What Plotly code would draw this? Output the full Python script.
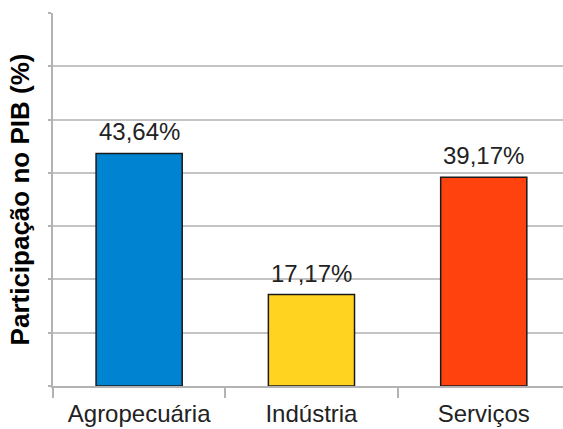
import plotly.graph_objects as go

categories = ["Agropecuária", "Indústria", "Serviços"]
values = [43.64, 17.17, 39.17]
labels = ["43,64%", "17,17%", "39,17%"]
colors = ["#0084d1", "#ffd320", "#ff420e"]

fig = go.Figure(go.Bar(
    x=categories, y=values, width=0.5,
    marker=dict(color=colors, line=dict(color="#1a1a1a", width=1.5)),
    hoverinfo="skip",
))

for c, v, t in zip(categories, values, labels):
    fig.add_annotation(x=c, y=v, text=t, showarrow=False, yanchor="bottom", yshift=6,
                       font=dict(family="Liberation Sans", size=24, color="#222"))

fig.update_layout(
    width=563, height=429,
    margin=dict(l=53, r=0, t=13, b=43),
    paper_bgcolor="white", plot_bgcolor="white",
    showlegend=False,
    font=dict(family="Liberation Sans", size=24, color="#222"),
)
fig.update_xaxes(
    range=[-0.5, 2.46], tickson="boundaries", ticks="outside", ticklen=10,
    tickcolor="#b3b3b3", tickwidth=1.5, showline=True, linecolor="#b3b3b3", linewidth=1.5,
    showgrid=False, tickfont=dict(size=24), ticklabelstandoff=5,
)
fig.update_yaxes(
    range=[0, 70], dtick=10, showticklabels=False, ticks="outside", ticklen=3,
    tickcolor="#b3b3b3", tickwidth=1.5, showgrid=True, gridcolor="#c4c4c4", gridwidth=1.5,
    showline=True, linecolor="#b3b3b3", linewidth=1.5, zeroline=False,
    title=dict(text="<b>Participação no PIB (%)</b>", font=dict(size=26, color="#000"), standoff=11),
)

fig.write_html("out.html")
